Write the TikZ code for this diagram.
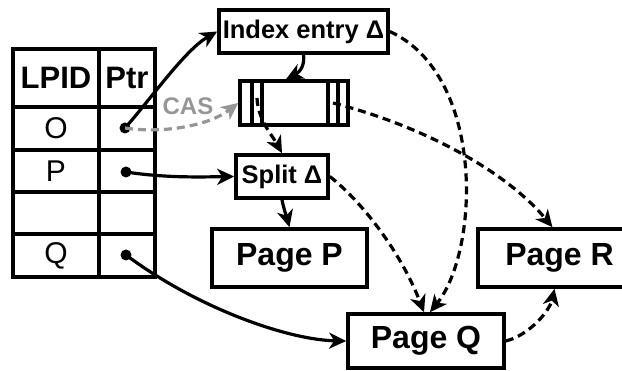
\documentclass[tikz,border=0pt]{standalone}
\usepackage{fontspec}
\setmainfont{Liberation Sans}
\usetikzlibrary{arrows.meta}
\definecolor{casgray}{RGB}{150,150,150}
\begin{document}
\begin{tikzpicture}[x=1pt,y=-1pt,
 box/.style={draw,line width=3.6pt,inner sep=0pt,font=\bfseries},
 cell/.style={draw,line width=3.6pt,inner sep=0pt},
 arr/.style={line width=3.2pt,-{Stealth[length=17pt,width=16pt,inset=5pt]}},
 dsh/.style={arr,dash pattern=on 8pt off 5pt},
 dotn/.style={circle,fill,inner sep=0pt,minimum size=11pt}]
\useasboundingbox (0,0) rectangle (622,371);
% table
\node[cell,minimum width=86pt,minimum height=58pt,font=\fontsize{31}{31}\bfseries\selectfont] (hl) at (56,78) {LPID};
\node[cell,minimum width=56pt,minimum height=58pt,font=\fontsize{31}{31}\bfseries\selectfont] (hp) at (127,78) {Ptr};
\node[cell,minimum width=86pt,minimum height=43pt,font=\fontsize{30}{30}\selectfont] (lo) at (56,128.5) {O};
\node[cell,minimum width=56pt,minimum height=43pt] (po) at (127,128.5) {};
\node[cell,minimum width=86pt,minimum height=42pt,font=\fontsize{30}{30}\selectfont] (lp) at (56,171) {P};
\node[cell,minimum width=56pt,minimum height=42pt] (pp) at (127,171) {};
\node[cell,minimum width=86pt,minimum height=42pt] (le) at (56,213) {};
\node[cell,minimum width=56pt,minimum height=42pt] (pe) at (127,213) {};
\node[cell,minimum width=86pt,minimum height=43pt,font=\fontsize{30}{30}\selectfont] (lq) at (56,255.5) {Q};
\node[cell,minimum width=56pt,minimum height=43pt] (pq) at (127,255.5) {};
\node[dotn] (dO) at (125,128) {};
\node[dotn] (dP) at (126,172) {};
\node[dotn] (dQ) at (126,255) {};
% boxes
\node[box,minimum width=169pt,minimum height=43pt,font=\fontsize{25.5}{25.5}\bfseries\selectfont] (idx) at (303.5,31.5) {Index entry Δ};
\node[box,minimum width=108pt,minimum height=44pt] (rec) at (294,103) {};
\draw[line width=3.2pt] (252,81) -- (252,125) (262,81) -- (262,125) (328,81) -- (328,125) (338,81) -- (338,125);
\coordinate (recL) at (257,98);
\coordinate (recR) at (333,103);
\node[box,minimum width=92pt,minimum height=43pt,font=\fontsize{25.5}{25.5}\bfseries\selectfont] (split) at (282,176.5) {Split Δ};
\node[box,minimum width=155pt,minimum height=58pt,font=\fontsize{32}{32}\bfseries\selectfont] (pP) at (289.5,258) {Page P};
\node[box,minimum width=163pt,minimum height=58pt,font=\fontsize{32}{32}\bfseries\selectfont] (pR) at (559.5,258) {Page R};
\node[box,minimum width=156pt,minimum height=54pt,font=\fontsize{32}{32}\bfseries\selectfont] (pQ) at (426,341) {Page Q};
\node[font=\fontsize{24}{24}\bfseries\selectfont,text=casgray] (cas) at (188,106) {CAS};
% connectors
\draw[arr] (dO.center) .. controls (150,100) and (185,50) .. (idx.west);
\draw[dsh,draw=casgray,-{Stealth[length=17pt,width=16pt,inset=5pt,fill=casgray]}] (dO.center) .. controls (165,134) and (210,125) .. (rec.west);
\draw[arr] (idx.south) .. controls (305,65) and (300,72) .. ([xshift=-8pt]rec.north);
\draw[dsh] (recL) .. controls (258,120) and (272,135) .. (split.north);
\draw[dsh] (recR) .. controls (420,125) and (505,170) .. ([xshift=-7pt]pR.north);
\draw[dsh] (idx.east) .. controls (485,75) and (480,250) .. ([xshift=4pt]pQ.north);
\draw[dsh] (split.east) .. controls (360,200) and (400,250) .. ([xshift=-2pt]pQ.north);
\draw[arr] (dP.center) .. controls (165,178) and (200,177) .. (split.west);
\draw[arr] (split.south) .. controls (284,210) and (287,218) .. (pP.north);
\draw[arr] (dQ.center) .. controls (200,310) and (290,340) .. (pQ.west);
\draw[dsh] (pQ.east) .. controls (530,335) and (550,310) .. ([xshift=-5pt]pR.south);
\end{tikzpicture}
\end{document}
